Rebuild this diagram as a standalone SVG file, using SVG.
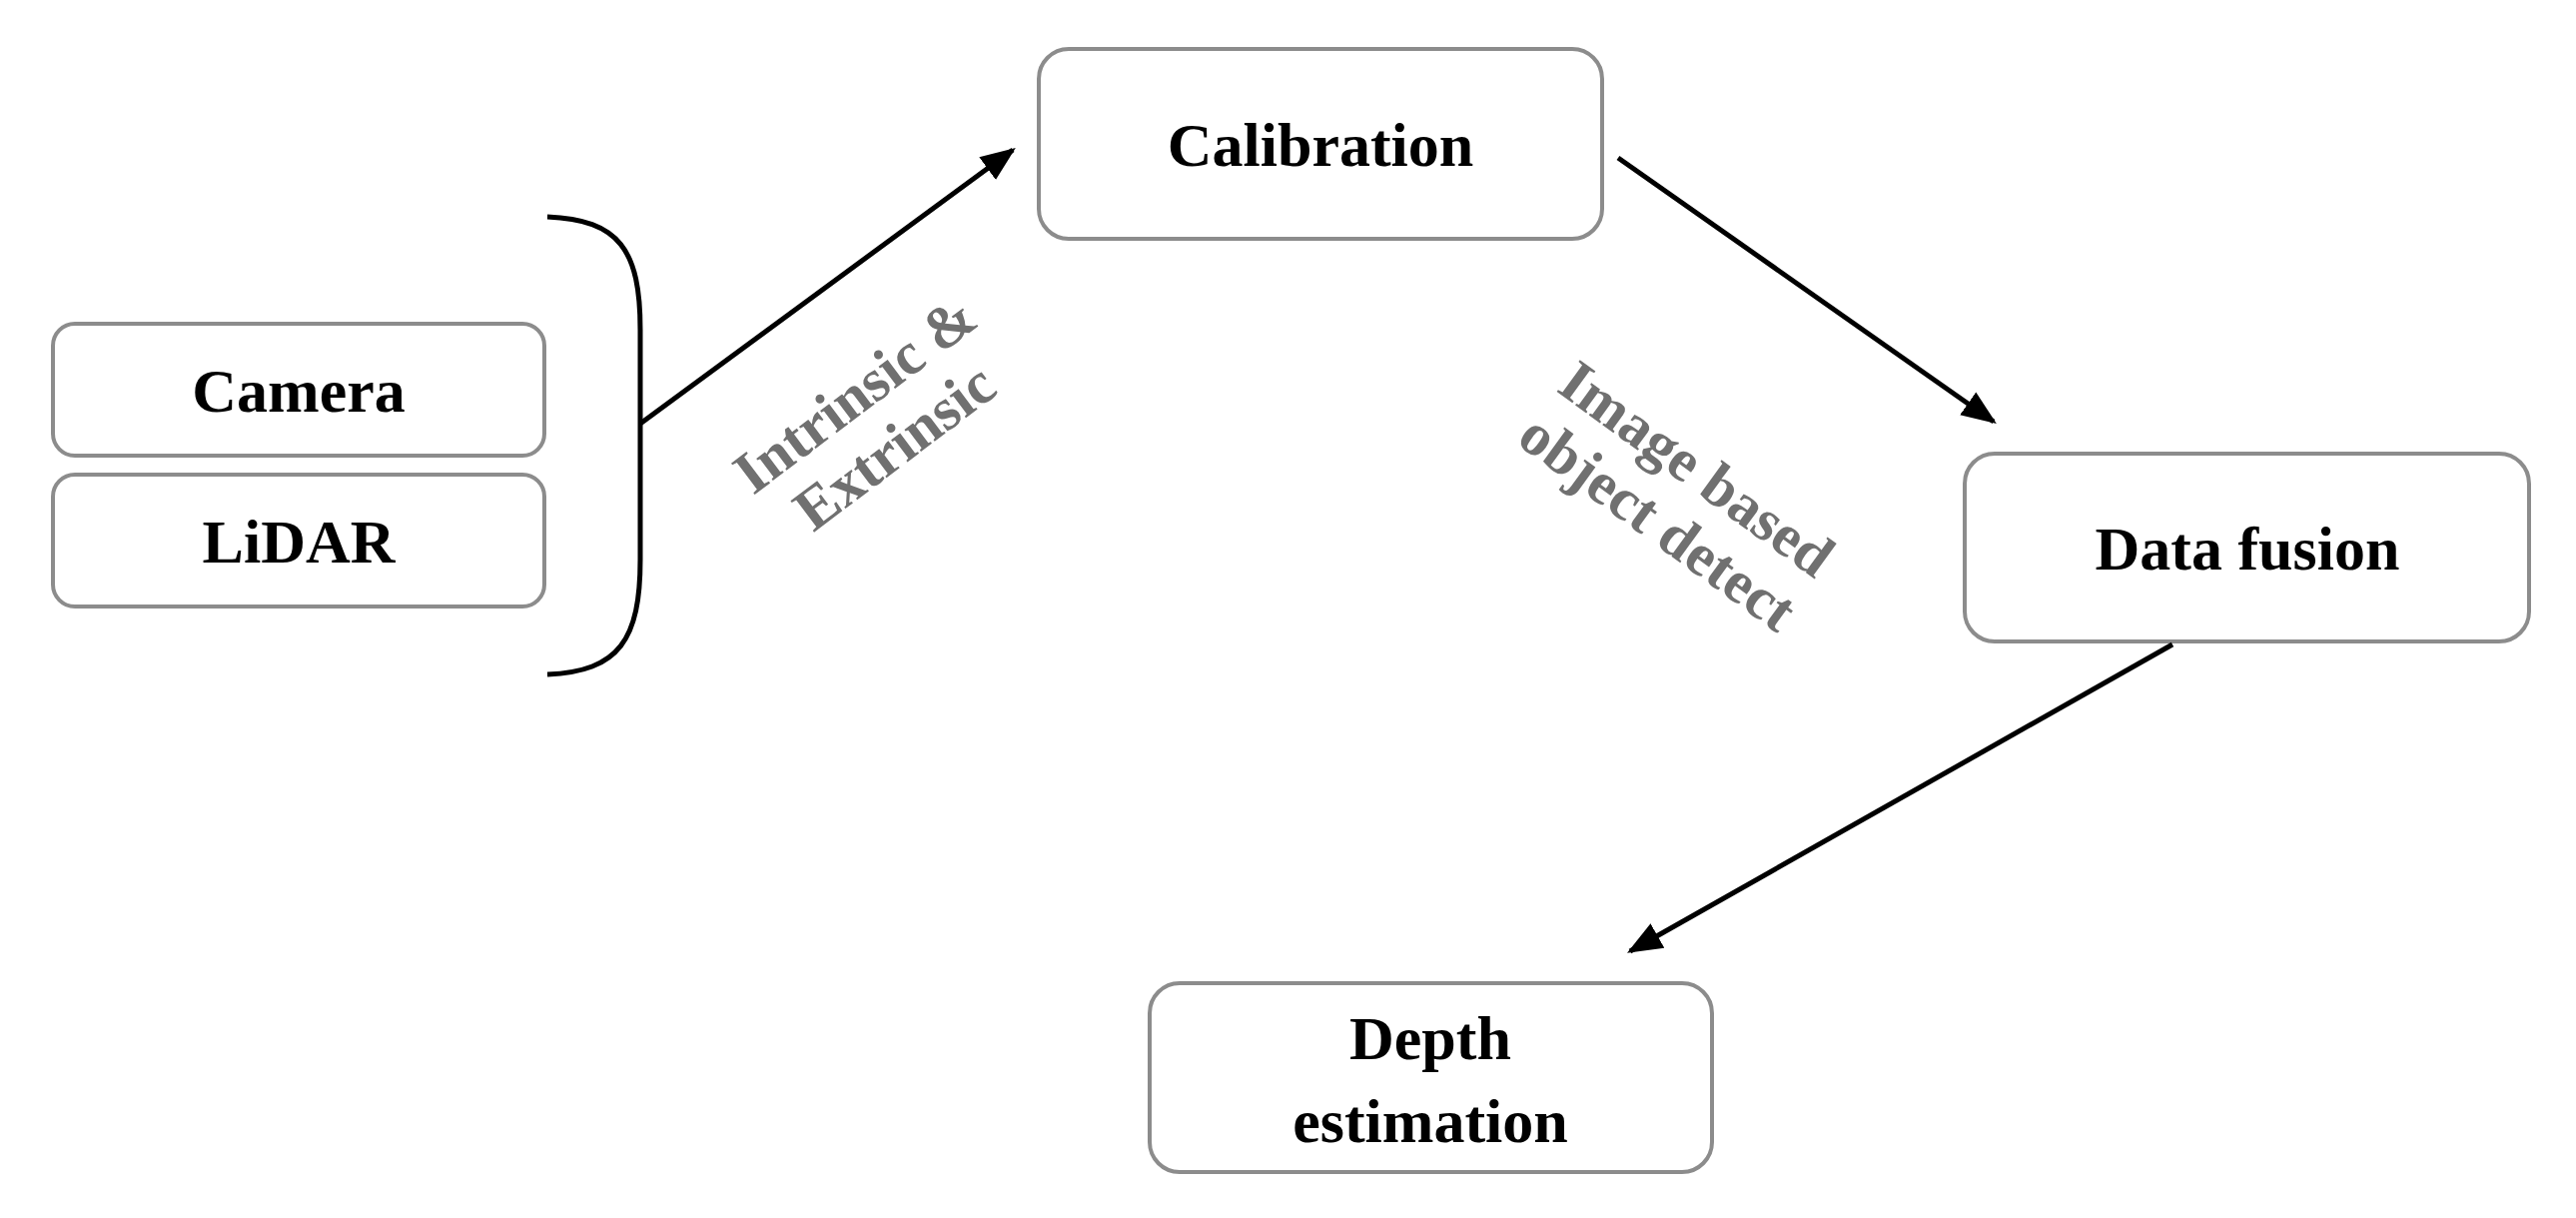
<svg xmlns="http://www.w3.org/2000/svg" width="2579" height="1219" viewBox="0 0 2579 1219">
<defs>
<style>
.box{fill:#fff;stroke:#8c8c8c;stroke-width:4}
.t{font-family:"Liberation Serif",serif;font-weight:bold;font-size:62px;fill:#000;text-anchor:middle}
.g{font-family:"Liberation Serif",serif;font-weight:bold;font-size:60px;fill:#707070;text-anchor:middle}
.c{stroke:#000;stroke-width:5;fill:none}
</style>
<marker id="ah" viewBox="0 0 10 10" refX="9" refY="5" markerWidth="7" markerHeight="7" markerUnits="strokeWidth" orient="auto"><path d="M0,1 L10,5 L0,9 Z" fill="#000"/></marker>
</defs>
<rect width="2579" height="1219" fill="#fff"/>
<g id="camera"><rect class="box" x="53" y="324" width="492" height="132" rx="22"/><text class="t" x="299" y="412">Camera</text></g>
<g id="lidar"><rect class="box" x="53" y="475" width="492" height="132" rx="22"/><text class="t" x="299" y="563">LiDAR</text></g>
<g id="calibration"><rect class="box" x="1040" y="49" width="564" height="190" rx="30"/><text class="t" x="1322" y="166">Calibration</text></g>
<g id="datafusion"><rect class="box" x="1967" y="454" width="565" height="188" rx="30"/><text class="t" x="2250" y="570">Data fusion</text></g>
<g id="depth"><rect class="box" x="1151" y="984" width="563" height="189" rx="30"/><text class="t" x="1432" y="1060">Depth</text><text class="t" x="1432" y="1143">estimation</text></g>
<g id="connectors">
<path class="c" d="M548,217 C620,220 641,250 641,330 L641,560 C641,640 620,672 548,675"/>
<line class="c" x1="641" y1="424" x2="1014" y2="150" marker-end="url(#ah)"/>
<line class="c" x1="1620" y1="158" x2="1996" y2="422" marker-end="url(#ah)"/>
<line class="c" x1="2175" y1="645" x2="1632" y2="952" marker-end="url(#ah)"/>
</g>
<g id="labels">
<g transform="translate(875,420) rotate(-37)"><text class="g" x="0" y="-12">Intrinsic &amp;</text><text class="g" x="0" y="54">Extrinsic</text></g>
<g transform="translate(1680,495) rotate(36)"><text class="g" x="0" y="-12">Image based</text><text class="g" x="0" y="54">object detect</text></g>
</g>
</svg>
